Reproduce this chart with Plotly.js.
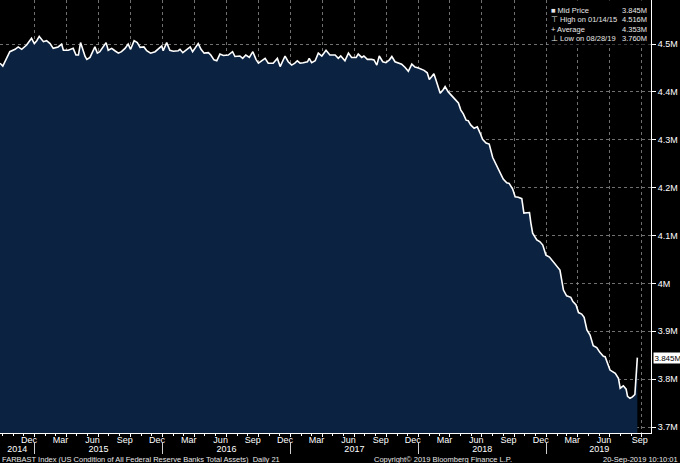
<!DOCTYPE html>
<html>
<head>
<meta charset="utf-8">
<script src="https://cdn.plot.ly/plotly-3.0.1.min.js"></script>
<style>html,body{margin:0;padding:0;background:#000;}#chart{width:680px;height:463px;}</style>
</head>
<body>
<div id="chart"></div>
<script>
// FARBAST Index, values in millions (M)
const dates = [
"2014-09-24","2014-10-02","2014-10-22","2014-11-06","2014-11-15","2014-11-25","2014-12-09","2014-12-23","2014-12-31",
"2015-01-07","2015-01-14","2015-01-26","2015-02-04","2015-02-14","2015-02-23","2015-03-09","2015-03-19","2015-03-24",
"2015-04-07","2015-04-21","2015-04-29","2015-05-06","2015-05-12","2015-05-25","2015-05-30","2015-06-08","2015-06-22",
"2015-06-29","2015-07-06","2015-07-16","2015-07-24","2015-07-30","2015-08-09","2015-08-18","2015-08-28","2015-09-06",
"2015-09-16","2015-09-25","2015-10-02","2015-10-12","2015-10-21","2015-10-29","2015-11-09","2015-11-17","2015-11-28",
"2015-12-11","2015-12-20","2015-12-30","2016-01-03","2016-01-13","2016-01-22","2016-02-01","2016-02-15","2016-02-20",
"2016-02-28","2016-03-10","2016-03-20","2016-03-27","2016-04-12","2016-04-20","2016-04-29","2016-05-11","2016-05-18",
"2016-05-27","2016-06-04","2016-06-13","2016-06-23","2016-07-07","2016-07-19","2016-07-26","2016-08-09","2016-08-17",
"2016-08-26","2016-09-05","2016-09-15","2016-09-24","2016-10-01","2016-10-10","2016-10-20","2016-10-29","2016-11-12",
"2016-11-24","2016-12-02","2016-12-16","2016-12-25","2017-01-04","2017-01-13","2017-01-20","2017-01-28","2017-02-06",
"2017-02-18","2017-02-23","2017-03-02","2017-03-12","2017-03-21","2017-03-31","2017-04-12","2017-04-23","2017-05-08",
"2017-05-17","2017-05-24","2017-06-05","2017-06-15","2017-06-24","2017-07-07","2017-07-13","2017-07-23","2017-07-29",
"2017-08-08","2017-08-20","2017-08-27","2017-09-04","2017-09-11","2017-09-21","2017-09-30","2017-10-10","2017-10-17",
"2017-10-26","2017-11-04","2017-11-14","2017-11-24","2017-12-03","2017-12-13","2017-12-22","2018-01-01","2018-01-10",
"2018-01-17","2018-01-26","2018-02-01","2018-02-08","2018-02-14","2018-02-20","2018-02-27","2018-03-04","2018-03-13",
"2018-03-18","2018-03-27","2018-04-06","2018-04-15","2018-04-25","2018-05-02","2018-05-09","2018-05-17","2018-05-23",
"2018-05-30","2018-06-09","2018-06-18","2018-06-26","2018-07-03","2018-07-13","2018-07-22","2018-08-01","2018-08-12",
"2018-08-20","2018-08-31","2018-09-10","2018-09-17","2018-09-27","2018-10-04","2018-10-13","2018-10-23","2018-10-29",
"2018-11-06","2018-11-14","2018-11-18","2018-11-23","2018-12-05","2018-12-14","2018-12-22","2018-12-31","2019-01-10",
"2019-01-17","2019-01-26","2019-02-05","2019-02-09","2019-02-14","2019-02-19","2019-02-28","2019-03-12","2019-03-18",
"2019-03-27","2019-04-03","2019-04-12","2019-04-19","2019-04-27","2019-05-06","2019-05-15","2019-05-25","2019-06-03",
"2019-06-13","2019-06-18","2019-07-02","2019-07-17","2019-07-26","2019-07-31","2019-08-09","2019-08-17","2019-08-21",
"2019-08-28","2019-09-04","2019-09-11","2019-09-18"
];
const values = [
4.460,4.454,4.484,4.489,4.494,4.489,4.498,4.512,4.501,
4.507,4.516,4.505,4.507,4.501,4.491,4.494,4.500,4.487,
4.487,4.491,4.477,4.477,4.503,4.474,4.468,4.472,4.494,
4.481,4.484,4.494,4.503,4.487,4.491,4.486,4.481,4.484,
4.491,4.500,4.489,4.507,4.503,4.493,4.494,4.486,4.481,
4.484,4.489,4.496,4.486,4.503,4.487,4.485,4.486,4.489,
4.482,4.489,4.494,4.484,4.501,4.489,4.481,4.482,4.477,
4.467,4.465,4.479,4.476,4.477,4.484,4.474,4.475,4.470,
4.477,4.472,4.484,4.468,4.460,4.465,4.470,4.460,4.460,
4.470,4.453,4.475,4.463,4.456,4.460,4.465,4.460,4.461,
4.463,4.470,4.461,4.465,4.481,4.475,4.487,4.477,4.477,
4.470,4.475,4.465,4.481,4.472,4.472,4.479,4.472,4.475,
4.468,4.468,4.467,4.456,4.475,4.463,4.461,4.467,4.474,
4.463,4.460,4.458,4.451,4.443,4.458,4.452,4.450,4.448,
4.445,4.440,4.426,4.432,4.438,4.425,4.411,4.397,4.405,
4.411,4.400,4.391,4.385,4.377,4.362,4.354,4.341,4.340,
4.331,4.324,4.327,4.314,4.301,4.293,4.291,4.263,4.247,
4.233,4.218,4.210,4.209,4.197,4.181,4.180,4.177,4.147,
4.147,4.148,4.126,4.105,4.091,4.087,4.080,4.059,4.055,
4.049,4.042,4.032,4.028,4.007,3.986,3.974,3.971,3.962,
3.955,3.939,3.936,3.929,3.903,3.892,3.870,3.866,3.856,
3.848,3.847,3.819,3.812,3.802,3.781,3.786,3.779,3.764,
3.760,3.763,3.768,3.845
];
const yTickVals = [3.7,3.8,3.9,4.0,4.1,4.2,4.3,4.4,4.5];
const yTickText = ["3.7M","3.8M","3.9M","4M","4.1M","4.2M","4.3M","4.4M","4.5M"];
const gridDates = ["2015-01-01","2015-04-01","2015-07-01","2015-10-01","2016-01-01","2016-04-01","2016-07-01","2016-10-01",
"2017-01-01","2017-04-01","2017-07-01","2017-10-01","2018-01-01","2018-04-01","2018-07-01","2018-10-01",
"2019-01-01","2019-04-01","2019-07-01","2019-10-01"];
const monthLabelDates = ["2014-12-16","2015-03-16","2015-06-15","2015-09-15","2015-12-16","2016-03-16","2016-06-15","2016-09-15",
"2016-12-16","2017-03-16","2017-06-15","2017-09-15","2017-12-16","2018-03-16","2018-06-15","2018-09-15","2018-12-16",
"2019-03-16","2019-06-15","2019-09-25"];
const monthLabelText = ["Dec","Mar","Jun","Sep","Dec","Mar","Jun","Sep","Dec","Mar","Jun","Sep","Dec","Mar","Jun","Sep","Dec","Mar","Jun","Sep"];
const yearSepDates = ["2015-01-01","2016-01-01","2017-01-01","2018-01-01","2019-01-01"];
const yearLabelDates = ["2014-11-12","2015-07-02","2016-07-02","2017-07-02","2018-07-02","2019-06-01"];
const yearLabelText = ["2014","2015","2016","2017","2018","2019"];
const legendLabels = ["■ Mid Price","⊤ High on 01/14/15","+ Average","⊥ Low on 08/28/19"];
const legendValues = ["3.845M","4.516M","4.353M","3.760M"];
const lastValue = 3.845;
const xRange = ["2014-09-24","2019-10-27"];
const yRange = [3.6875,4.592];

const FONT = "Liberation Sans Narrow, Arial Narrow, Liberation Sans, Arial, sans-serif";
const H = 463, PW = 651;

const hidden = (ax) => ({x: dates, y: values, xaxis: ax, yaxis: 'y', mode: 'lines',
  line: {width: 0}, opacity: 0, hoverinfo: 'skip', showlegend: false});

const traces = [
  {x: dates, y: values, type: 'scatter', mode: 'lines', fill: 'tozeroy',
   fillcolor: '#0b2341', line: {color: '#ffffff', width: 1.6}, showlegend: false, hoverinfo: 'skip'},
  hidden('x2'), hidden('x3'), hidden('x4')
];

const gridCol = 'rgba(150,150,150,0.75)';
const legendRowsY = [10, 19.5, 29, 38];
const legendAnns = [];
legendAnns.push({xref: 'paper', yref: 'paper', x: 548 / PW, y: 1, xanchor: 'left', yanchor: 'top',
  text: ' ', showarrow: false, bgcolor: '#000', width: 101, height: 43, borderpad: 0});
legendLabels.forEach((t, i) => {
  legendAnns.push({xref: 'paper', yref: 'paper', x: 550 / PW, y: (H - legendRowsY[i]) / H,
    xanchor: 'left', yanchor: 'middle', text: t, showarrow: false, borderpad: 0,
    font: {family: FONT, size: 7.5, color: '#e8e8e8'}});
  legendAnns.push({xref: 'paper', yref: 'paper', x: 648 / PW, y: (H - legendRowsY[i]) / H,
    xanchor: 'right', yanchor: 'middle', text: legendValues[i], showarrow: false, borderpad: 0,
    font: {family: FONT, size: 7.5, color: '#e8e8e8'}});
});

const layout = {
  width: 680, height: 463,
  margin: {l: 0, r: 29, t: 0, b: 0},
  paper_bgcolor: '#000', plot_bgcolor: '#000',
  font: {family: FONT, size: 9, color: '#ffffff'},
  showlegend: false,
  xaxis: {type: 'date', range: xRange, tickmode: 'array', tickvals: gridDates, showticklabels: false,
    ticks: 'outside', ticklen: 3, tickcolor: '#fff', tickwidth: 1,
    showgrid: true, gridcolor: gridCol, griddash: 'dot', gridwidth: 1,
    showline: true, linecolor: '#fff', linewidth: 1, zeroline: false,
    minor: {dtick: 'M1', tick0: '2015-01-01', ticks: 'outside', ticklen: 2, tickcolor: '#fff', showgrid: false}},
  xaxis2: {type: 'date', overlaying: 'x', matches: 'x', anchor: 'y', side: 'bottom', tickmode: 'array',
    tickvals: monthLabelDates, ticktext: monthLabelText, ticks: '', showgrid: false, showline: false, zeroline: false,
    tickfont: {family: FONT, size: 9, color: '#fff'}},
  xaxis3: {type: 'date', overlaying: 'x', matches: 'x', anchor: 'free', position: (H - 441) / H, side: 'bottom',
    tickmode: 'array', tickvals: yearSepDates, showticklabels: false, ticks: 'outside', ticklen: 12,
    tickcolor: '#cfcfcf', tickwidth: 1, showgrid: false, showline: false, zeroline: false},
  xaxis4: {type: 'date', overlaying: 'x', matches: 'x', anchor: 'free', position: (H - 442) / H, side: 'bottom',
    tickmode: 'array', tickvals: yearLabelDates, ticktext: yearLabelText, ticks: '', showgrid: false,
    showline: false, zeroline: false, tickfont: {family: FONT, size: 9, color: '#fff'}},
  yaxis: {domain: [(H - 433) / H, 1], range: yRange, side: 'right', tickmode: 'array',
    tickvals: yTickVals, ticktext: yTickText, ticks: 'outside', ticklen: 4, tickcolor: '#fff',
    showgrid: true, gridcolor: gridCol, griddash: 'dot', gridwidth: 1,
    showline: true, linecolor: '#fff', linewidth: 1, zeroline: false,
    tickfont: {family: FONT, size: 9, color: '#fff'}},
  annotations: legendAnns.concat([
    {xref: 'paper', yref: 'y', x: 1, y: lastValue, xanchor: 'left', yanchor: 'middle', xshift: 2,
     text: lastValue.toFixed(3) + 'M', showarrow: false, bgcolor: '#ffffff', borderpad: 0.5,
     font: {family: FONT, size: 8, color: '#000'}},
    {xref: 'paper', yref: 'paper', x: 0, y: (H - 459) / H, xanchor: 'left', yanchor: 'middle',
     text: 'FARBAST Index (US Condition of All Federal Reserve Banks Total Assets)  Daily 21', showarrow: false,
     font: {family: FONT, size: 7.5, color: '#e8e8e8'}},
    {xref: 'paper', yref: 'paper', x: 372 / PW, y: (H - 459) / H, xanchor: 'left', yanchor: 'middle',
     text: 'Copyright© 2019 Bloomberg Finance L.P.', showarrow: false,
     font: {family: FONT, size: 7.5, color: '#e8e8e8'}},
    {xref: 'paper', yref: 'paper', x: 680 / PW, y: (H - 459) / H, xanchor: 'right', yanchor: 'middle',
     text: '20-Sep-2019 10:10:01', showarrow: false,
     font: {family: FONT, size: 7.5, color: '#e8e8e8'}}
  ])
};

Plotly.newPlot('chart', traces, layout, {staticPlot: true, displayModeBar: false});
</script>
</body>
</html>
